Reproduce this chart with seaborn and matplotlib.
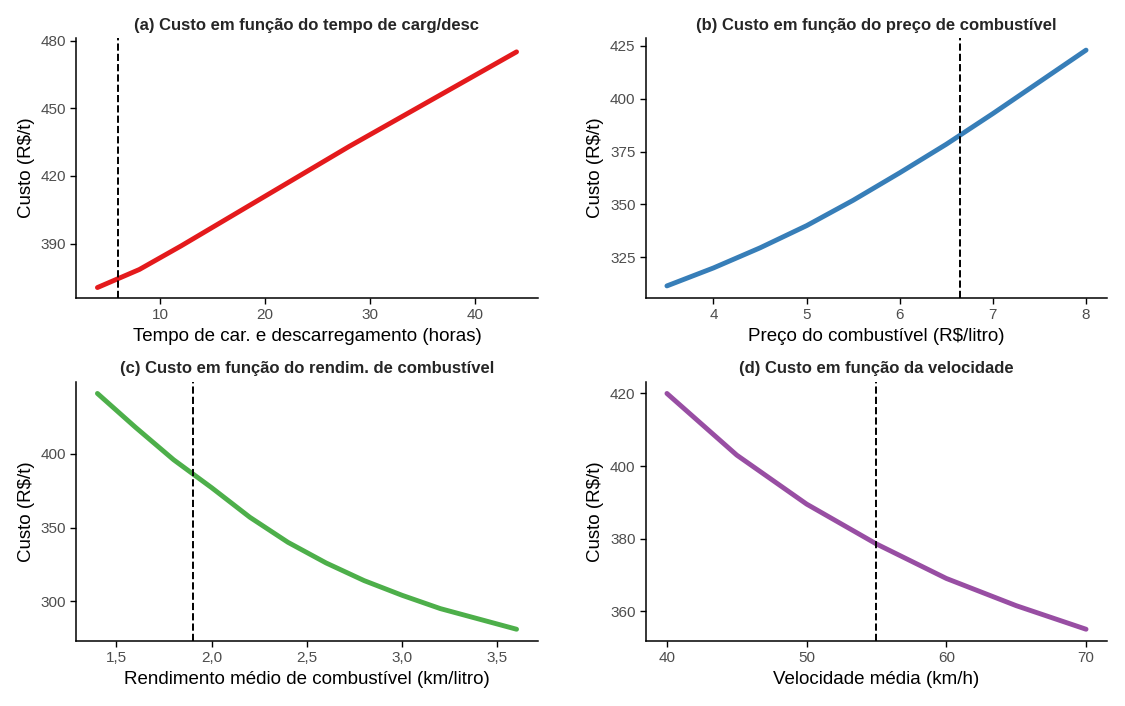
import matplotlib
matplotlib.use("Agg")
import matplotlib.pyplot as plt
import seaborn as sns
import pandas as pd
from matplotlib.ticker import FuncFormatter

sns.set_theme(style="ticks")
plt.rcParams['font.family'] = ['Liberation Sans', 'DejaVu Sans']

tempo_x = [4, 6, 8, 12, 16, 20, 24, 28, 32, 36, 40, 44]
tempo_y = [370.5, 374.5, 378.5, 389.0, 400.0, 411.0, 422.0, 433.0, 443.5, 454.0, 464.5, 475.0]
preco_x = [3.5, 4.0, 4.5, 5.0, 5.5, 6.0, 6.5, 7.0, 7.5, 8.0]
preco_y = [311.5, 320.0, 329.5, 340.0, 352.0, 365.0, 378.5, 393.0, 408.0, 423.0]
rend_x = [1.4, 1.6, 1.8, 2.0, 2.2, 2.4, 2.6, 2.8, 3.0, 3.2, 3.4, 3.6]
rend_y = [441, 418, 396, 377, 357, 340, 326, 314, 304, 295, 288, 281]
vel_x = [40, 45, 50, 55, 60, 65, 70]
vel_y = [420, 403, 389.5, 378.5, 369, 361.5, 355]

panels = [
    (tempo_x, tempo_y, 6, "#E41A1C", "(a) Custo em função do tempo de carg/desc",
     "Tempo de car. e descarregamento (horas)", [10, 20, 30, 40], [390, 420, 450, 480], False),
    (preco_x, preco_y, 6.65, "#377EB8", "(b) Custo em função do preço de combustível",
     "Preço do combustível (R$/litro)", [4, 5, 6, 7, 8], [325, 350, 375, 400, 425], False),
    (rend_x, rend_y, 1.9, "#4DAF4A", "(c) Custo em função do rendim. de combustível",
     "Rendimento médio de combustível (km/litro)", [1.5, 2.0, 2.5, 3.0, 3.5], [300, 350, 400], True),
    (vel_x, vel_y, 55, "#984EA3", "(d) Custo em função da velocidade",
     "Velocidade média (km/h)", [40, 50, 60, 70], [360, 380, 400, 420], False),
]

fig, axes = plt.subplots(2, 2, figsize=(11.25, 7.06), dpi=100)
for ax, (x, y, v, c, title, xl, xt, yt, comma) in zip(axes.flat, panels):
    df = pd.DataFrame({"x": x, "y": y})
    sns.lineplot(data=df, x="x", y="y", ax=ax, color=c, linewidth=3.5)
    ax.axvline(v, color="black", linestyle="--", linewidth=1.4)
    ax.set_title(title, fontsize=12, fontweight="bold")
    ax.set_xlabel(xl, fontsize=13.5, color="black")
    ax.set_ylabel("Custo (R$/t)", fontsize=13.5, color="black")
    ax.set_xticks(xt)
    ax.set_yticks(yt)
    if comma:
        ax.xaxis.set_major_formatter(FuncFormatter(lambda val, p: f"{val:.1f}".replace(".", ",")))
    ax.tick_params(labelsize=11, labelcolor="#4d4d4d", color="black", length=4, width=1)
    for s in ("left", "bottom"):
        ax.spines[s].set_color("black")
        ax.spines[s].set_linewidth(1.1)
    dx = (max(x) - min(x)) * 0.05
    ax.set_xlim(min(x) - dx, max(x) + dx)
    ax.set_ylim(min(y) - (max(y)-min(y))*0.05, max(max(y) + (max(y)-min(y))*0.05, max(yt)))
    sns.despine(ax=ax)

axes[0,0].set_ylim(366, 481)
fig.tight_layout(h_pad=1.0, w_pad=3.0)
fig.savefig("out.png", dpi=100)
